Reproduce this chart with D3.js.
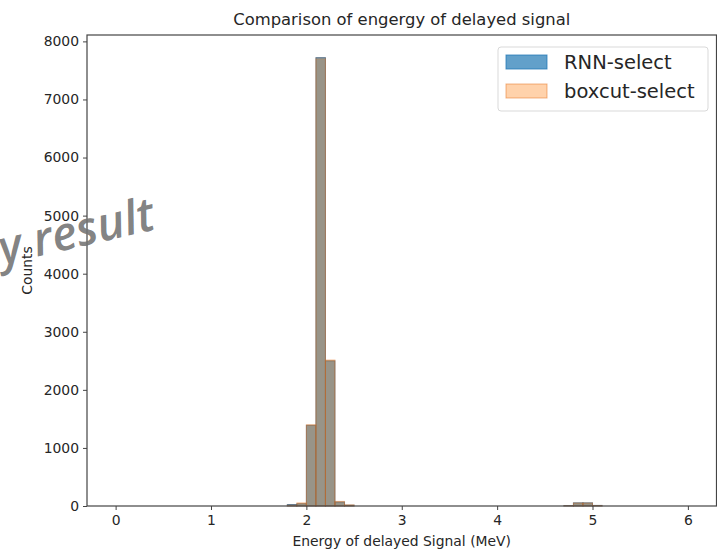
<!DOCTYPE html>
<html>
<head>
<meta charset="utf-8">
<script src="https://cdn.jsdelivr.net/npm/d3@7"></script>
<style>
  body { margin: 0; background: #fff; }
  text { font-family: "DejaVu Sans", sans-serif; fill: #262626; }
</style>
</head>
<body>
<svg id="chart" width="717" height="549"></svg>
<script>
// histogram bins (left edge, MeV), width 0.1; empty bins left out
var binLefts   = [1.8, 1.9, 2.0, 2.1, 2.2, 2.3, 2.4, 4.7, 4.8, 4.9, 5.0];
var rnnCounts  = [25, 40, 1390, 7720, 2500, 70, 15, 8, 55, 55, 10];
var boxCounts  = [10, 55, 1400, 7700, 2515, 80, 20, 5, 50, 50, 8];
var binWidth   = 0.1;
var xTicks     = [0, 1, 2, 3, 4, 5, 6];
var yTicks     = [0, 1000, 2000, 3000, 4000, 5000, 6000, 7000, 8000];
var seriesNames = ["RNN-select", "boxcut-select"];

(function() {
    var svg = d3.select("#chart"),
        mLeft = 87, mRight = 716.5, mTop = 35, mBottom = 506;

    var x = d3.scaleLinear().domain([-0.3, 6.3]).range([mLeft, mRight]);
    var y = d3.scaleLinear().domain([0, 8110]).range([mBottom, mTop]);

    var blueFill = "rgba(31,119,180,0.7)",
        orangeFill = "rgba(255,127,14,0.35)";

    function drawBars(counts, fill, stroke) {
        svg.append("g").selectAll("rect")
            .data(binLefts)
            .enter()
            .append("rect")
            .attr("x", function(d){ return x(d); })
            .attr("width", function(d){ return x(d + binWidth) - x(d); })
            .attr("y", function(d, i){ return y(counts[i]); })
            .attr("height", function(d, i){ return y(0) - y(counts[i]); })
            .attr("fill", fill)
            .attr("stroke", stroke)
            .attr("stroke-width", 1);
    }
    drawBars(rnnCounts, blueFill, "rgba(40,60,80,0.6)");
    drawBars(boxCounts, orangeFill, "rgba(230,120,40,0.35)");

    // axes
    var xAxis = svg.append("g")
        .attr("transform", "translate(0," + mBottom + ")")
        .call(d3.axisBottom(x).tickValues(xTicks).tickFormat(d3.format("d")).tickSizeOuter(0).tickSize(4).tickPadding(5));
    var yAxis = svg.append("g")
        .attr("transform", "translate(" + mLeft + ",0)")
        .call(d3.axisLeft(y).tickValues(yTicks).tickFormat(d3.format("d")).tickSizeOuter(0).tickSize(4).tickPadding(4));

    [xAxis, yAxis].forEach(function(a){
        a.select(".domain").remove();
        a.selectAll(".tick line").attr("stroke", "#444").attr("stroke-width", 1);
        a.selectAll(".tick text").style("font-family", "DejaVu Sans").style("font-size", "13.9px").attr("fill", "#262626");
    });

    // frame
    svg.append("rect")
        .attr("x", mLeft).attr("y", mTop)
        .attr("width", mRight - mLeft).attr("height", mBottom - mTop)
        .attr("fill", "none").attr("stroke", "#444").attr("stroke-width", 1.2);

    // title and labels
    svg.append("text")
        .attr("x", (mLeft + mRight) / 2).attr("y", 25)
        .attr("text-anchor", "middle")
        .style("font-size", "16.4px")
        .text("Comparison of engergy of delayed signal");

    svg.append("text")
        .attr("x", (mLeft + mRight) / 2).attr("y", 546)
        .attr("text-anchor", "middle")
        .style("font-size", "13.9px")
        .text("Energy of delayed Signal (MeV)");

    svg.append("text")
        .attr("transform", "translate(32," + ((mTop + mBottom) / 2) + ") rotate(-90)")
        .attr("text-anchor", "middle")
        .style("font-size", "13.9px")
        .text("Counts");

    // legend
    var legend = svg.append("g");
    legend.append("rect")
        .attr("x", 498).attr("y", 47).attr("width", 210).attr("height", 64)
        .attr("rx", 3)
        .attr("fill", "rgba(255,255,255,0.8)")
        .attr("stroke", "#d9d9d9");
    var legendFills = [blueFill, orangeFill],
        legendStrokes = ["rgba(31,119,180,0.75)", "rgba(230,120,40,0.55)"];
    seriesNames.forEach(function(name, i){
        legend.append("rect")
            .attr("x", 506).attr("y", 55 + i * 29)
            .attr("width", 41).attr("height", 14)
            .attr("fill", legendFills[i])
            .attr("stroke", legendStrokes[i]);
        legend.append("text")
            .attr("x", 564).attr("y", 69 + i * 29)
            .style("font-size", "19.5px")
            .text(name);
    });

    // watermark
    svg.append("text")
        .attr("transform", "translate(157,229) rotate(-13)")
        .attr("text-anchor", "end")
        .style("font-family", "'Open Sans', sans-serif")
        .style("font-size", "47px")
        .style("font-style", "italic")
        .style("font-weight", "600")
        .style("fill", "rgba(115,115,115,0.9)")
        .text("Preliminary result");
})();
</script>
</body>
</html>
